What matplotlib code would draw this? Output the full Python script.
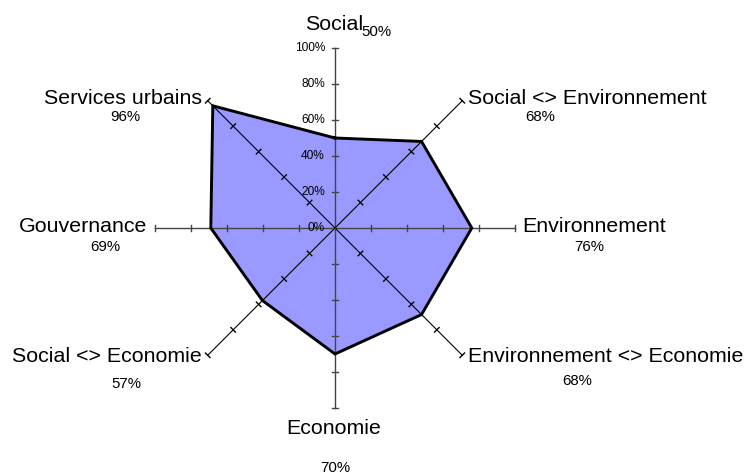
import numpy as np
import matplotlib
matplotlib.use("Agg")
import matplotlib.pyplot as plt

# ── Data ───────────────────────────────────────────────────────────────────────
categories = ["Social", "Social <> Environnement", "Environnement",
              "Environnement <> Economie", "Economie", "Social <> Economie",
              "Gouvernance", "Services urbains"]
scores = [50, 68, 76, 68, 70, 57, 69, 96]
radial_ticks = [0, 20, 40, 60, 80, 100]

# ── Layout (pixels of the 745x475 picture) ─────────────────────────────────────
W, H = 745, 475
CX, CY, R = 335, 228, 180          # centre and 100% radius in pixels

def px(x, y):
    """pixel (from top-left) -> data coords where 1.0 = 100%"""
    return (x - CX) / R, (CY - y) / R

# name position, name alignment, percent position
label_pos = [
    ((334, 25), "center", (376, 32)),
    ((468, 98), "left", (540, 117)),
    ((522, 227), "left", (589, 247)),
    ((468, 356), "left", (577, 381)),
    ((334, 429), "center", (335, 468)),
    ((202, 357), "right", (126, 384)),
    ((147, 227), "right", (105, 247)),
    ((202, 99), "right", (125, 117)),
]

FILL = "#9999ff"
FONT = "Liberation Sans"

fig = plt.figure(figsize=(W / 100, H / 100), dpi=100)
ax = fig.add_axes([0, 0, 1, 1])
ax.set_xlim(-CX / R, (W - CX) / R)
ax.set_ylim(-(H - CY) / R, CY / R)
ax.axis("off")

n = len(categories)
angles = np.pi / 2 - np.arange(n) * 2 * np.pi / n
vals = np.array(scores) / 100.0

# polygon
xs = vals * np.cos(angles)
ys = vals * np.sin(angles)
ax.fill(xs, ys, color=FILL, zorder=1)
ax.plot(np.append(xs, xs[0]), np.append(ys, ys[0]), color="black",
        lw=2.1, solid_joinstyle="miter", zorder=3)

# spokes with ticks
tick_half = 3.2 / R
for i, a in enumerate(angles):
    diag = i % 2 == 1
    col = "black" if diag else "#444444"
    ax.plot([0, np.cos(a)], [0, np.sin(a)], color=col,
            lw=0.8 if diag else 1.0, zorder=2)
    px_, py_ = -np.sin(a), np.cos(a)
    for t in radial_ticks[1:]:
        r = t / 100
        bx, by = r * np.cos(a), r * np.sin(a)
        ax.plot([bx - tick_half * px_, bx + tick_half * px_],
                [by - tick_half * py_, by + tick_half * py_],
                color=col, lw=1.0, zorder=2)

# radial tick labels on the upper vertical spoke
for t in radial_ticks:
    x, y = px(CX - 10, CY - t / 100 * R)
    ax.text(x, y, f"{t}%", ha="right", va="center", fontsize=8.6,
            family=FONT, color="black", zorder=4)

# category names + percentages
for name, s, (npos, ha, ppos) in zip(categories, scores, label_pos):
    x, y = px(*npos)
    ax.text(x, y, name, ha=ha, va="center", fontsize=15.4, family=FONT,
            color="black", zorder=4)
    x, y = px(*ppos)
    ax.text(x, y, f"{s}%", ha="center", va="center", fontsize=10.8,
            family=FONT, color="black", zorder=4)

fig.savefig("out.png", dpi=100, facecolor="white")
plt.close(fig)
